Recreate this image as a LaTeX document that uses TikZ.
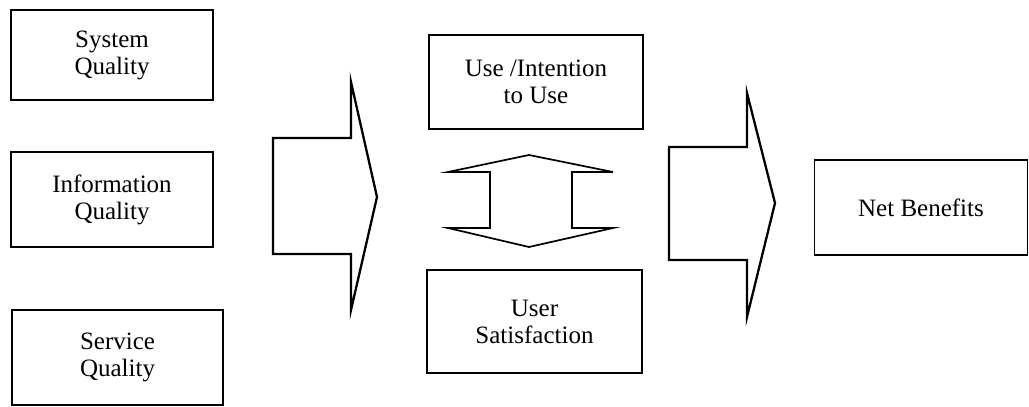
\documentclass[tikz,border=0pt]{standalone}
\usepackage{fontspec}
\setmainfont{Liberation Serif}
\begin{document}
\begin{tikzpicture}[x=1pt,y=-1pt,
  box/.style={draw=black,line width=1.7pt,rectangle,inner sep=0pt,align=center,
    font=\fontsize{25}{27}\selectfont},
  bigarrow/.style={draw=black,line width=2.3pt,line join=miter}]
\useasboundingbox (0,0) rectangle (1029,407);
% boxes
\node[box,minimum width=202pt,minimum height=90pt] (sysq) at (112,55) {System\\Quality};
\node[box,minimum width=202pt,minimum height=95pt] (infq) at (112,199.5) {Information\\Quality};
\node[box,minimum width=211pt,minimum height=95pt] (serq) at (117.5,357.5) {Service\\Quality};
\node[box,minimum width=214pt,minimum height=94pt] (use) at (536,82) {Use /Intention\\to Use};
\node[box,minimum width=215pt,minimum height=103pt] (usat) at (534.5,321.5) {User\\Satisfaction};
\node[box,minimum width=213pt,minimum height=95pt] (net) at (921,207.5) {Net Benefits};
% first block arrow
\draw[bigarrow] (273,138) -- (351,138) -- (351,82) -- (377,197) -- (351,310) -- (351,254) -- (273,254) -- cycle;
% double arrow
\draw[bigarrow,line width=1.7pt] (529,155) -- (613,172) -- (572,172) -- (572,228) -- (613,228) -- (529,247)
  -- (448,228) -- (490,228) -- (490,172) -- (448,172) -- cycle;
% second block arrow
\draw[bigarrow] (669,147) -- (747,147) -- (747,93) -- (775,203) -- (747,317) -- (747,260) -- (669,260) -- cycle;
\end{tikzpicture}
\end{document}
